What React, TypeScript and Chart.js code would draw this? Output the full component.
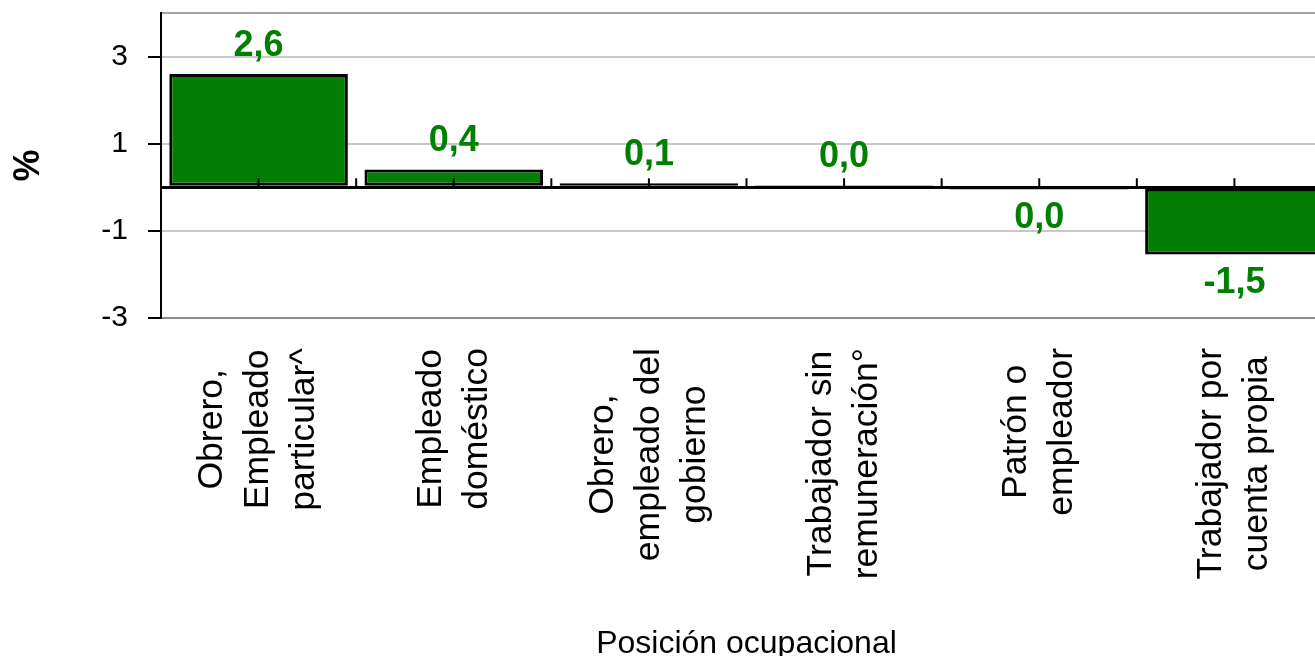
import React, { useEffect, useRef } from "react";
import { Chart, registerables } from "chart.js";

Chart.register(...registerables);

const categories: string[][] = [
  ["Obrero,", "Empleado", "particular^"],
  ["Empleado", "doméstico"],
  ["Obrero,", "empleado del", "gobierno"],
  ["Trabajador sin", "remuneración°"],
  ["Patrón o", "empleador"],
  ["Trabajador por", "cuenta propia"],
];
const values: number[] = [2.6, 0.41, 0.09, 0.049, -0.049, -1.54];
const yTickLabels: number[] = [-3, -1, 1, 3];
const yGridValues: number[] = [-3, -1, 0, 1, 3, 4];
const yMin = -3;
const yMax = 4;
const yAxisTitle = "%";
const xAxisTitle = "Posición ocupacional";

const FONT = "'Liberation Sans', Arial, Helvetica, sans-serif";
const GREEN = "#037d03";
const LABEL_GREEN = "#008000";
const CANVAS_W = 1332;
const CANVAS_H = 670;

function fmt(v: number): string {
  let s = v.toFixed(1);
  if (Math.abs(parseFloat(s)) === 0) s = "0.0";
  return s.replace(".", ",");
}

const decorPlugin = {
  id: "decor",
  afterDatasetsDraw(chart: any) {
    const { ctx, scales } = chart;
    const xs = scales.x;
    const ys = scales.y;
    const zeroY = ys.getPixelForValue(0);
    ctx.save();
    // small tick marks on the zero line: category centres and boundaries
    ctx.strokeStyle = "#000";
    ctx.lineWidth = 2;
    const n = categories.length;
    const half = (xs.getPixelForValue(1) - xs.getPixelForValue(0)) / 2;
    for (let i = 0; i < n; i++) {
      const cx = xs.getPixelForValue(i);
      for (const mx of [cx, cx + half]) {
        ctx.beginPath();
        ctx.moveTo(mx, zeroY);
        ctx.lineTo(mx, zeroY - 9);
        ctx.stroke();
      }
    }
    // data labels
    const meta = chart.getDatasetMeta(0);
    ctx.fillStyle = LABEL_GREEN;
    ctx.font = `bold 36px ${FONT}`;
    ctx.textAlign = "center";
    ctx.textBaseline = "alphabetic";
    meta.data.forEach((bar: any, i: number) => {
      const v = values[i];
      const txt = fmt(v);
      if (v >= 0) {
        ctx.fillText(txt, bar.x, bar.y - 18);
      } else {
        ctx.fillText(txt, bar.x, bar.y + 39);
      }
    });
    ctx.restore();
  },
  afterDraw(chart: any) {
    const { ctx, chartArea, scales } = chart;
    const xs = scales.x;
    ctx.save();
    ctx.fillStyle = "#000";
    ctx.font = `35.5px ${FONT}`;
    ctx.textAlign = "center";
    ctx.textBaseline = "middle";
    const lh = 46;
    categories.forEach((lines, i) => {
      const x = xs.getPixelForValue(i);
      let maxW = 0;
      lines.forEach((l) => {
        maxW = Math.max(maxW, ctx.measureText(l).width);
      });
      const cy = chartArea.bottom + 30 + maxW / 2;
      ctx.save();
      ctx.translate(x, cy);
      ctx.rotate(-Math.PI / 2);
      lines.forEach((l, j) => {
        ctx.fillText(l, 0, (j - (lines.length - 1) / 2) * lh);
      });
      ctx.restore();
    });
    ctx.restore();
  },
};

export default function App() {
  const ref = useRef<HTMLCanvasElement>(null);

  useEffect(() => {
    if (!ref.current) return;
    Chart.defaults.font.family = FONT;
    const chart = new Chart(ref.current, {
      type: "bar",
      data: {
        labels: categories.map((c) => c.join(" ")),
        datasets: [
          {
            data: values,
            backgroundColor: GREEN,
            borderColor: "#000",
            borderWidth: 3,
            borderSkipped: false,
            categoryPercentage: 1,
            barPercentage: 0.915,
          },
        ],
      },
      options: {
        responsive: false,
        animation: false,
        devicePixelRatio: 1,
        layout: { padding: { top: 13, left: 0, right: 0, bottom: 0 } },
        plugins: {
          legend: { display: false },
          tooltip: { enabled: false },
          title: { display: false },
        },
        scales: {
          x: {
            offset: true,
            afterFit: (s: any) => {
              s.height = CANVAS_H - 318;
              s.paddingLeft = 0;
              s.paddingRight = 0;
            },
            ticks: { display: false },
            grid: { display: false },
            border: { display: true, color: "#8c8c8c", width: 2 },
            title: {
              display: true,
              text: xAxisTitle,
              color: "#000",
              font: { size: 32, family: FONT },
              padding: { top: 0, bottom: 7 },
            },
          },
          y: {
            min: yMin,
            max: yMax,
            afterBuildTicks: (s: any) => {
              s.ticks = yGridValues.map((v) => ({ value: v }));
            },
            afterFit: (s: any) => {
              s.width = 161;
              s.paddingTop = 0;
              s.paddingBottom = 0;
            },
            ticks: {
              color: "#000",
              padding: 20,
              font: { size: 30, family: FONT },
              callback: (v: any) => (yTickLabels.includes(Number(v)) ? String(v) : ""),
            },
            grid: {
              lineWidth: (c: any) => (c.tick?.value === 0 ? 3 : 2),
              tickLength: 13,
              tickWidth: 2,
              drawTicks: true,
              color: (c: any) => {
                const v = c.tick?.value;
                if (v === 0) return "#000";
                if (v === yMax) return "#a6a6a6";
                if (v === yMin) return "#8c8c8c";
                return "#c8c8c8";
              },
              tickColor: (c: any) =>
                yTickLabels.includes(c.tick?.value) ? "#000" : "rgba(0,0,0,0)",
            },
            border: { display: true, color: "#000", width: 2 },
            title: {
              display: true,
              text: yAxisTitle,
              color: "#000",
              font: { size: 36, weight: "bold", family: FONT },
              padding: { top: 7, bottom: 0 },
            },
          },
        },
      },
      plugins: [decorPlugin],
    });
    return () => chart.destroy();
  }, []);

  return (
    <div
      style={{
        position: "fixed",
        left: 0,
        top: 0,
        width: 1315,
        height: 656,
        overflow: "hidden",
        background: "#fff",
      }}
    >
      <canvas
        ref={ref}
        width={CANVAS_W}
        height={CANVAS_H}
        style={{ display: "block", width: CANVAS_W, height: CANVAS_H }}
      />
    </div>
  );
}
